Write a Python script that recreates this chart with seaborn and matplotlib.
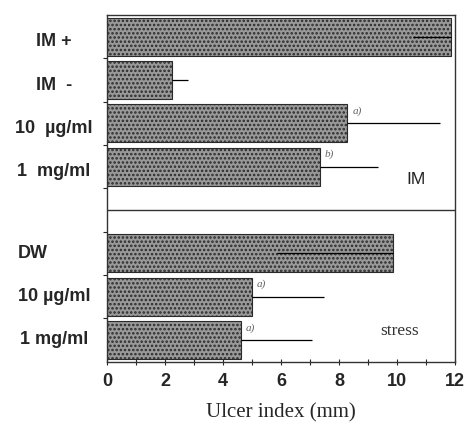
import numpy as np
import pandas as pd
import matplotlib
matplotlib.use("Agg")
import matplotlib.pyplot as plt
import matplotlib.transforms as mtransforms
import seaborn as sns

# rows top to bottom; empty row separates the two experiments
labels = ["IM +", "IM  -", "10  µg/ml", "1  mg/ml", "", "DW", "10 µg/ml", "1 mg/ml"]
ulcer = [11.85, 2.25, 8.28, 7.33, np.nan, 9.85, 5.0, 4.62]
err_low = [1.3, 0.0, 0.0, 0.0, 0.0, 4.0, 0.0, 0.0]
err_high = [0.0, 0.55, 3.22, 2.02, 0.0, 0.0, 2.48, 2.45]
marks = ["", "", "a)", "b)", "", "", "a)", "a)"]

df = pd.DataFrame({"row": range(len(labels)), "label": labels, "ulcer": ulcer,
                   "lo": err_low, "hi": err_high, "mark": marks})

sns.set_style("white")
plt.rcParams["font.family"] = ["Liberation Sans", "DejaVu Sans"]
plt.rcParams["hatch.linewidth"] = 1.2

fig, ax = plt.subplots(figsize=(4.69, 4.28), dpi=100)
fig.subplots_adjust(left=0.228, right=0.970, top=0.965, bottom=0.155)

sns.barplot(data=df, x="ulcer", y="row", orient="h", order=range(len(labels)),
            color="#999999", width=0.88, ax=ax, native_scale=True)
for bar in ax.patches:
    bar.set_facecolor("#999999")
    bar.set_hatch("....")
    bar.set_edgecolor("#2a2a2a")
    bar.set_linewidth(0.8)

d = df.dropna()
ax.errorbar(d["ulcer"], d["row"], xerr=[d["lo"], d["hi"]], fmt="none",
            ecolor="black", elinewidth=0.9, capsize=0)

for _, r in d.iterrows():
    if r["mark"]:
        ax.text(r["ulcer"] + 0.18, r["row"] - 0.28, r["mark"], fontsize=8,
                family="Liberation Serif", style="italic", color="#666666",
                ha="left", va="center")

ax.set_xlim(0, 12)
ax.set_ylim(len(labels) - 0.5, -0.5)
ax.axhline(4.0, color="#333333", lw=1.0)

ax.set_xticks(range(0, 13, 2))
ax.set_xticks(range(0, 13), minor=True)
ax.tick_params(axis="x", which="both", direction="inout", length=4, width=0.8,
               labelsize=13, pad=6, bottom=True)
for t in ax.get_xticklabels():
    t.set_fontweight("bold")

ax.set_yticks(np.arange(0.5, len(labels) - 1, 1.0))
ax.set_yticklabels([])
ax.tick_params(axis="y", which="both", direction="out", length=3, width=0.8, left=True)

trans = mtransforms.blended_transform_factory(ax.transAxes, ax.transData)
for i, lab in enumerate(labels):
    if not lab:
        continue
    if lab == "DW":
        ax.text(-0.255, i, lab, transform=trans, ha="left", va="center",
                fontsize=13, fontweight="bold")
    else:
        ax.text(-0.152, i + (0.12 if i < 4 else 0), lab, transform=trans,
                ha="center", va="center", fontsize=13, fontweight="bold")

ax.text(10.65, 3.3, "IM", fontsize=12.5, ha="center", va="center", color="#222222")
ax.text(10.1, 6.8, "stress", fontsize=12.5, family="Liberation Serif",
        ha="center", va="center", color="#333333")

ax.set_xlabel("Ulcer index (mm)", family="Liberation Serif", fontsize=15, labelpad=10)
ax.set_ylabel("")
for s in ax.spines.values():
    s.set_visible(True)
    s.set_color("#333333")
    s.set_linewidth(1.0)

plt.savefig("out.png", dpi=100)
